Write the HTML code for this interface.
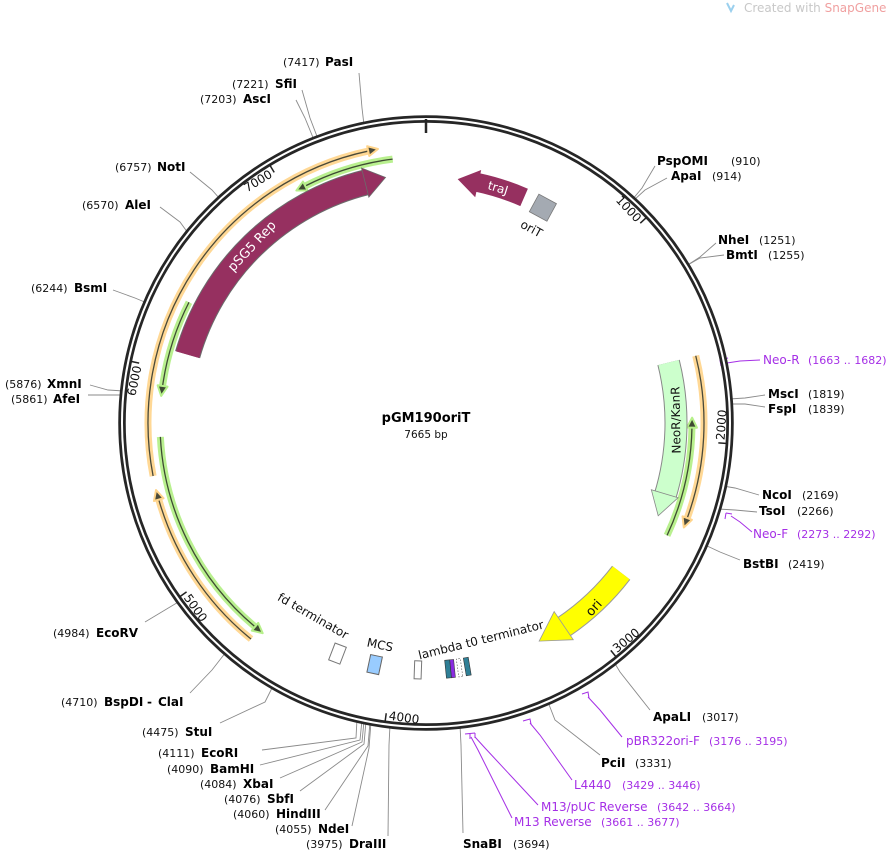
<!DOCTYPE html>
<html><head><meta charset="utf-8"><style>
html,body{margin:0;padding:0;background:#fff;}
svg{display:block;font-family:"DejaVu Sans","Liberation Sans",sans-serif;}
.b{font-weight:bold;font-size:12px;fill:#000}
.n{font-size:11px;fill:#111}
.p{font-size:12px;fill:#a52fe6}
.pn{font-size:11px;fill:#a52fe6}
.l{stroke:#8a8a8a;stroke-width:0.9;fill:none}
.pl{stroke:#a52fe6;stroke-width:1;fill:none}
.tk{font-size:12px;fill:#111}
</style></head><body>
<svg width="895" height="852" viewBox="0 0 895 852" xmlns="http://www.w3.org/2000/svg">
<text x="744" y="12" font-size="12" fill="#c8c8c8">Created with <tspan fill="#f0a0a0">SnapGene</tspan></text>
<path d="M727 3 l4 8 l3 -6" stroke="#9bd0ee" stroke-width="2" fill="none"/>

<g class="l">
<polyline points="364,125 362,108 359,73"/>
<polyline points="318,139 310,118 302,90"/>
<polyline points="314,140 305,118 296,100"/>
<polyline points="220,199 212,190 190,172"/>
<polyline points="188,233 180,222 160,207"/>
<polyline points="147,303 135,298 113,290"/>
<polyline points="124,391 108,390 90,385"/>
<polyline points="123,395 108,395 88,395"/>
<polyline points="180,601 165,610 145,622"/>
<polyline points="226,652 212,670 190,693"/>
<polyline points="273,686 265,702 220,723"/>
<polyline points="357,719 356,738 262,750"/>
<polyline points="362,720 360,740 260,765"/>
<polyline points="364,721 362,742 280,778"/>
<polyline points="366,721 364,744 300,791"/>
<polyline points="370,722 368,746 325,810"/>
<polyline points="371,722 369,748 352,826"/>
<polyline points="390,725 389,745 388,836"/>
<polyline points="460,725 461,745 463,833"/>
<polyline points="548,702 555,720 600,755"/>
<polyline points="614,662 620,672 650,710"/>
<polyline points="705,545 720,552 740,560"/>
<polyline points="718,509 735,510 757,512"/>
<polyline points="723,486 735,488 759,495"/>
<polyline points="729,404 745,404 765,407"/>
<polyline points="729,399 745,398 765,395"/>
<polyline points="686,266 700,257 716,243"/>
<polyline points="686,266 700,258 724,255"/>
<polyline points="632,200 642,188 655,166"/>
<polyline points="633,201 645,190 667,178"/>
</g>

<g class="pl">
<polyline points="727,363 740,361 760,360"/>
<path d="M720,360 l1,6 M720,360 l8,-2"/>
<polyline points="731,516 740,522 752,532"/>
<path d="M726,513 l-1,6 M726,513 l6,1"/>
<polyline points="588,697 600,710 622,737"/>
<path d="M582,694 l6,-2 l1,6"/>
<polyline points="530,723 540,735 572,780"/>
<path d="M523,721 l7,-2 l1,5"/>
<polyline points="475,737 485,748 538,805"/>
<polyline points="471,737 478,750 512,818"/>
<path d="M465,734 l10,-1 M470,734 l0,5 M475,733 l0,5"/>
</g>

<circle cx="426" cy="423" r="304" fill="none" stroke="#262626" stroke-width="7.5"/>
<circle cx="426" cy="423" r="304" fill="none" stroke="#fff" stroke-width="2"/>
<line x1="426" y1="119" x2="426" y2="133" stroke="#262626" stroke-width="2.5"/>

<g transform="rotate(47 426 423)"><line x1="426" y1="121" x2="426" y2="130" stroke="#222" stroke-width="1.5"/><text class="tk" x="423" y="133" text-anchor="end">1000</text></g>
<g transform="rotate(281.8 426 423)"><line x1="426" y1="121" x2="426" y2="130" stroke="#222" stroke-width="1.5"/><text class="tk" x="423" y="133" text-anchor="end">6000</text></g>
<g transform="rotate(328.8 426 423)"><line x1="426" y1="121" x2="426" y2="130" stroke="#222" stroke-width="1.5"/><text class="tk" x="423" y="133" text-anchor="end">7000</text></g>
<g transform="rotate(-86.1 426 423)"><line x1="426" y1="716" x2="426" y2="725" stroke="#222" stroke-width="1.5"/><text class="tk" x="429" y="722">2000</text></g>
<g transform="rotate(-39.1 426 423)"><line x1="426" y1="716" x2="426" y2="725" stroke="#222" stroke-width="1.5"/><text class="tk" x="429" y="722">3000</text></g>
<g transform="rotate(7.8 426 423)"><line x1="426" y1="716" x2="426" y2="725" stroke="#222" stroke-width="1.5"/><text class="tk" x="429" y="722">4000</text></g>
<g transform="rotate(54.8 426 423)"><line x1="426" y1="716" x2="426" y2="725" stroke="#222" stroke-width="1.5"/><text class="tk" x="429" y="722">5000</text></g>

<g fill="none">
<g stroke="#ffd48a" stroke-width="7" opacity="0.9">
<circle cx="426" cy="423" r="278" stroke-dasharray="431.8 3000" transform="rotate(169 426 423)"/>
<circle cx="426" cy="423" r="278" stroke-dasharray="169.8 3000" transform="rotate(129 426 423)"/>
<circle cx="426" cy="423" r="278" stroke-dasharray="165 3000" transform="rotate(-14 426 423)"/>
</g>
<g stroke="#4a4a3a" stroke-width="1.3">
<circle cx="426" cy="423" r="278" stroke-dasharray="431.8 3000" transform="rotate(169 426 423)"/>
<circle cx="426" cy="423" r="278" stroke-dasharray="169.8 3000" transform="rotate(129 426 423)"/>
<circle cx="426" cy="423" r="278" stroke-dasharray="165 3000" transform="rotate(-14 426 423)"/>
</g>
</g>
<g fill="#4a4a3a" stroke="#ffd48a" stroke-width="2" stroke-linejoin="round">
<polygon points="426,140 426,150 436,145" transform="rotate(348 426 423)"/>
<polygon points="426,140 426,150 436,145" transform="rotate(254 426 423)"/>
<polygon points="426,140 426,150 436,145" transform="rotate(110 426 423)"/>
</g>

<g fill="none">
<g stroke="#b6f08a" stroke-width="7" opacity="0.95">
<circle cx="426" cy="423" r="266" stroke-dasharray="218.2 3000" transform="rotate(130 426 423)"/>
<circle cx="426" cy="423" r="266" stroke-dasharray="88.2 3000" transform="rotate(188 426 423)"/>
<circle cx="426" cy="423" r="266" stroke-dasharray="91.9 3000" transform="rotate(243 426 423)"/>
<circle cx="426" cy="423" r="266" stroke-dasharray="111.4 3000" transform="rotate(1 426 423)"/>
</g>
<g stroke="#3e4a33" stroke-width="1.3">
<circle cx="426" cy="423" r="266" stroke-dasharray="218.2 3000" transform="rotate(130 426 423)"/>
<circle cx="426" cy="423" r="266" stroke-dasharray="88.2 3000" transform="rotate(188 426 423)"/>
<circle cx="426" cy="423" r="266" stroke-dasharray="91.9 3000" transform="rotate(243 426 423)"/>
<circle cx="426" cy="423" r="266" stroke-dasharray="111.4 3000" transform="rotate(1 426 423)"/>
</g>
</g>
<g fill="#3e4a33" stroke="#b6f08a" stroke-width="2" stroke-linejoin="round">
<polygon points="426,152 426,162 416,157" transform="rotate(220 426 423)"/>
<polygon points="426,152 426,162 416,157" transform="rotate(278 426 423)"/>
<polygon points="426,152 426,162 416,157" transform="rotate(333 426 423)"/>
<polygon points="426,152 426,162 416,157" transform="rotate(91 426 423)"/>
</g>

<!-- pSG5 Rep -->
<circle cx="426" cy="423" r="248" fill="none" stroke="#6b6b6b" stroke-width="26" stroke-dasharray="259.7 3000" transform="rotate(196 426 423)"/>
<circle cx="426" cy="423" r="248" fill="none" stroke="#963060" stroke-width="24" stroke-dasharray="260 3000" transform="rotate(196 426 423)"/>
<polygon points="426,160 426,190 447,175" fill="#963060" stroke="#6b6b6b" stroke-width="0.8" transform="rotate(345.8 426 423)"/>
<text x="255" y="249" font-size="13" fill="#fff" text-anchor="middle" transform="rotate(-47 255 249)">pSG5 Rep</text>

<!-- traJ -->
<circle cx="426" cy="423" r="246" fill="none" stroke="#963060" stroke-width="19" stroke-dasharray="49.4 3000" transform="rotate(-78 426 423)"/>
<polygon points="426,164 426,192 405,178" fill="#963060" transform="rotate(12.3 426 423)"/>
<text x="498" y="192" font-size="12" fill="#fff" text-anchor="middle" transform="rotate(17 498 188)">traJ</text>

<g transform="rotate(28.5 426 423)"><rect x="416" y="168" width="20" height="20" fill="#a4aab2" stroke="#777" stroke-width="0.8"/><text x="426" y="206" font-size="12" text-anchor="middle" fill="#111">oriT</text></g>

<!-- NeoR/KanR -->
<circle cx="426" cy="423" r="250" fill="none" stroke="#888" stroke-width="23" stroke-dasharray="136 3000" transform="rotate(-14 426 423)"/>
<circle cx="426" cy="423" r="250" fill="none" stroke="#ccffcc" stroke-width="21" stroke-dasharray="136.5 3000" transform="rotate(-14 426 423)"/>
<polygon points="426,160 426,188 449,174" fill="#ccffcc" stroke="#888" stroke-width="0.8" transform="rotate(106.5 426 423)"/>
<text x="676" y="424" font-size="12" fill="#111" text-anchor="middle" transform="rotate(-91 676 420)">NeoR/KanR</text>

<!-- ori -->
<circle cx="426" cy="423" r="246" fill="none" stroke="#999" stroke-width="23" stroke-dasharray="79.4 3000" transform="rotate(37.5 426 423)"/>
<circle cx="426" cy="423" r="246" fill="none" stroke="#ffff00" stroke-width="21" stroke-dasharray="80 3000" transform="rotate(37.5 426 423)"/>
<polygon points="426,161 426,195 455,179" fill="#ffff00" stroke="#999" stroke-width="0.8" transform="rotate(145.8 426 423)"/>
<text x="594" y="612" font-size="13" fill="#111" text-anchor="middle" transform="rotate(-48 594 608)">ori</text>

<g transform="rotate(201 426 423)"><rect x="420" y="167" width="12" height="18" fill="#fff" stroke="#777" stroke-width="1"/></g>
<g transform="rotate(192 426 423)"><rect x="420" y="167" width="12" height="18" fill="#99ccff" stroke="#666" stroke-width="1"/></g>
<g transform="rotate(182 426 423)"><rect x="422" y="167" width="7" height="18" fill="#fff" stroke="#777" stroke-width="1"/></g>
<g transform="rotate(174.3 426 423)"><rect x="422" y="167" width="4" height="18" fill="#8a2be2" stroke="#444" stroke-width="0.6"/><rect x="426" y="167" width="5" height="18" fill="#2f7f96" stroke="#333" stroke-width="0.6"/></g>
<g transform="rotate(172.2 426 423)"><rect x="424" y="167" width="4" height="18" fill="#fff" stroke="#555" stroke-width="0.6" stroke-dasharray="1.5 1.5"/></g>
<g transform="rotate(170.5 426 423)"><rect x="423" y="167" width="5" height="18" fill="#2f7f96" stroke="#333" stroke-width="0.6"/></g>
<text x="313" y="620" font-size="12" fill="#111" text-anchor="middle" transform="rotate(30 313 616)">fd terminator</text>
<text x="380" y="649" font-size="12" fill="#111" text-anchor="middle" transform="rotate(11.7 380 645)">MCS</text>
<text x="481" y="644" font-size="12" fill="#111" text-anchor="middle" transform="rotate(-14 481 640)">lambda t0 terminator</text>

<text x="426" y="422" font-size="13" font-weight="bold" text-anchor="middle" fill="#000">pGM190oriT</text>
<text x="426" y="438" font-size="10.5" text-anchor="middle" fill="#111">7665 bp</text>

<text class="n" x="283" y="66">(7417)</text><text class="b" x="325" y="66">PasI</text>
<text class="n" x="232" y="88">(7221)</text><text class="b" x="275" y="88">SfiI</text>
<text class="n" x="200" y="103">(7203)</text><text class="b" x="243" y="103">AscI</text>
<text class="n" x="115" y="171">(6757)</text><text class="b" x="157" y="171">NotI</text>
<text class="n" x="82" y="209">(6570)</text><text class="b" x="125" y="209">AleI</text>
<text class="n" x="31" y="292">(6244)</text><text class="b" x="74" y="292">BsmI</text>
<text class="n" x="5" y="388">(5876)</text><text class="b" x="47" y="388">XmnI</text>
<text class="n" x="11" y="403">(5861)</text><text class="b" x="53" y="403">AfeI</text>
<text class="n" x="53" y="637">(4984)</text><text class="b" x="96" y="637">EcoRV</text>
<text class="n" x="61" y="706">(4710)</text><text class="b" x="104" y="706">BspDI</text><text class="b" x="147" y="706" font-weight="normal">- </text><text class="b" x="158" y="706">ClaI</text>
<text class="n" x="142" y="736">(4475)</text><text class="b" x="185" y="736">StuI</text>
<text class="n" x="158" y="757">(4111)</text><text class="b" x="201" y="757">EcoRI</text>
<text class="n" x="167" y="773">(4090)</text><text class="b" x="210" y="773">BamHI</text>
<text class="n" x="200" y="788">(4084)</text><text class="b" x="243" y="788">XbaI</text>
<text class="n" x="224" y="803">(4076)</text><text class="b" x="267" y="803">SbfI</text>
<text class="n" x="233" y="818">(4060)</text><text class="b" x="276" y="818">HindIII</text>
<text class="n" x="275" y="833">(4055)</text><text class="b" x="318" y="833">NdeI</text>
<text class="n" x="306" y="848">(3975)</text><text class="b" x="349" y="848">DraIII</text>

<text class="b" x="657" y="165">PspOMI</text><text class="n" x="731" y="165">(910)</text>
<text class="b" x="671" y="180">ApaI</text><text class="n" x="712" y="180">(914)</text>
<text class="b" x="718" y="244">NheI</text><text class="n" x="759" y="244">(1251)</text>
<text class="b" x="726" y="259">BmtI</text><text class="n" x="768" y="259">(1255)</text>
<text class="b" x="768" y="398">MscI</text><text class="n" x="808" y="398">(1819)</text>
<text class="b" x="768" y="413">FspI</text><text class="n" x="808" y="413">(1839)</text>
<text class="b" x="762" y="499">NcoI</text><text class="n" x="802" y="499">(2169)</text>
<text class="b" x="759" y="515">TsoI</text><text class="n" x="797" y="515">(2266)</text>
<text class="b" x="743" y="568">BstBI</text><text class="n" x="788" y="568">(2419)</text>
<text class="b" x="653" y="721">ApaLI</text><text class="n" x="702" y="721">(3017)</text>
<text class="b" x="601" y="767">PciI</text><text class="n" x="635" y="767">(3331)</text>
<text class="b" x="463" y="848">SnaBI</text><text class="n" x="513" y="848">(3694)</text>

<text class="p" x="763" y="364">Neo-R</text><text class="pn" x="808" y="364">(1663 .. 1682)</text>
<text class="p" x="753" y="538">Neo-F</text><text class="pn" x="797" y="538">(2273 .. 2292)</text>
<text class="p" x="626" y="745">pBR322ori-F</text><text class="pn" x="709" y="745">(3176 .. 3195)</text>
<text class="p" x="574" y="789">L4440</text><text class="pn" x="622" y="789">(3429 .. 3446)</text>
<text class="p" x="541" y="811">M13/pUC Reverse</text><text class="pn" x="657" y="811">(3642 .. 3664)</text>
<text class="p" x="514" y="826">M13 Reverse</text><text class="pn" x="601" y="826">(3661 .. 3677)</text>
</svg>
</body></html>
